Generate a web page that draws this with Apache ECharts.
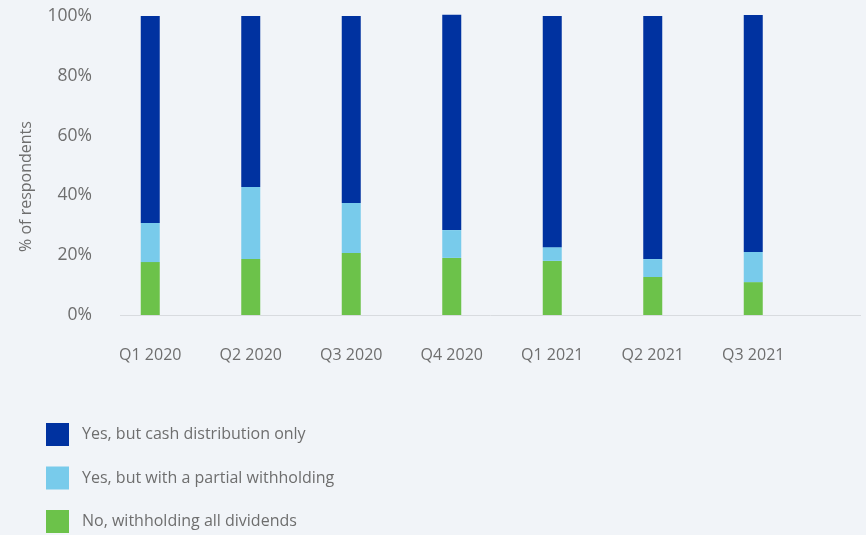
<!DOCTYPE html>
<html>
<head>
<meta charset="utf-8">
<script src="https://cdn.jsdelivr.net/npm/echarts@6/dist/echarts.min.js"></script>
<style>
  html, body { margin: 0; padding: 0; background: #f1f4f8; }
  #chart { width: 866px; height: 535px; }
</style>
</head>
<body>
<div id="chart"></div>
<script>
// Quarterly survey: dividend plans of respondents
const quarters = ['Q1 2020', 'Q2 2020', 'Q3 2020', 'Q4 2020', 'Q1 2021', 'Q2 2021', 'Q3 2021'];
const withholdingAll = [17.7, 18.7, 20.7, 19.1, 18.1, 12.7, 11.0];
const partialWithholding = [13.1, 24.1, 16.8, 9.3, 4.6, 6.0, 10.1];
const cashOnly = [69.2, 57.2, 62.5, 72.0, 77.3, 81.3, 79.2];
const yTicks = [0, 20, 40, 60, 80, 100];

const names = {
  cash: 'Yes, but cash distribution only',
  partial: 'Yes, but with a partial withholding',
  none: 'No, withholding all dividends'
};

const font = '"Open Sans", "Noto Sans", sans-serif';
const chart = echarts.init(document.getElementById('chart'), null, { renderer: 'canvas' });

function barSeries(name, data, color) {
  return {
    name: name,
    type: 'bar',
    stack: 'total',
    data: data,
    barWidth: 19,
    clip: false,
    itemStyle: { color: color },
    emphasis: { disabled: true }
  };
}

chart.setOption({
  backgroundColor: '#f1f4f8',
  animation: false,
  textStyle: { fontFamily: font },
  grid: { left: 100, right: 62.5, top: 16, bottom: 220, containLabel: false },
  xAxis: {
    type: 'category',
    data: quarters,
    axisLine: { show: false },
    axisTick: { show: false },
    axisLabel: { color: '#6e6e6e', fontSize: 16, fontFamily: font, margin: 32 }
  },
  yAxis: {
    type: 'value',
    min: yTicks[0],
    max: yTicks[yTicks.length - 1],
    interval: 20,
    name: '% of respondents',
    nameLocation: 'middle',
    nameGap: 66,
    nameTextStyle: { color: '#6e6e6e', fontSize: 16, fontFamily: font, padding: [0, 42, 0, 0] },
    axisLine: { show: false },
    axisTick: { show: false },
    splitLine: { show: false },
    axisLabel: {
      color: '#6e6e6e',
      fontSize: 17.5,
      fontFamily: font,
      margin: 8,
      formatter: v => v + '%'
    }
  },
  legend: {
    orient: 'vertical',
    left: 46,
    top: 423,
    padding: 0,
    height: 120,
    itemWidth: 23,
    itemHeight: 23,
    itemGap: 20.5,
    icon: 'rect',
    selectedMode: false,
    data: [names.cash, names.partial, names.none],
    textStyle: { color: '#6e6e6e', fontSize: 16, fontFamily: font, padding: [0, 0, 0, 8] }
  },
  graphic: [{
    type: 'line',
    shape: { x1: 120, y1: 315.5, x2: 861, y2: 315.5 },
    style: { stroke: '#d8dbdf', lineWidth: 1 },
    z: 0
  }],
  series: [
    barSeries(names.none, withholdingAll, '#6cc24a'),
    barSeries(names.partial, partialWithholding, '#78cbeb'),
    barSeries(names.cash, cashOnly, '#0032a0')
  ]
});
</script>
</body>
</html>
